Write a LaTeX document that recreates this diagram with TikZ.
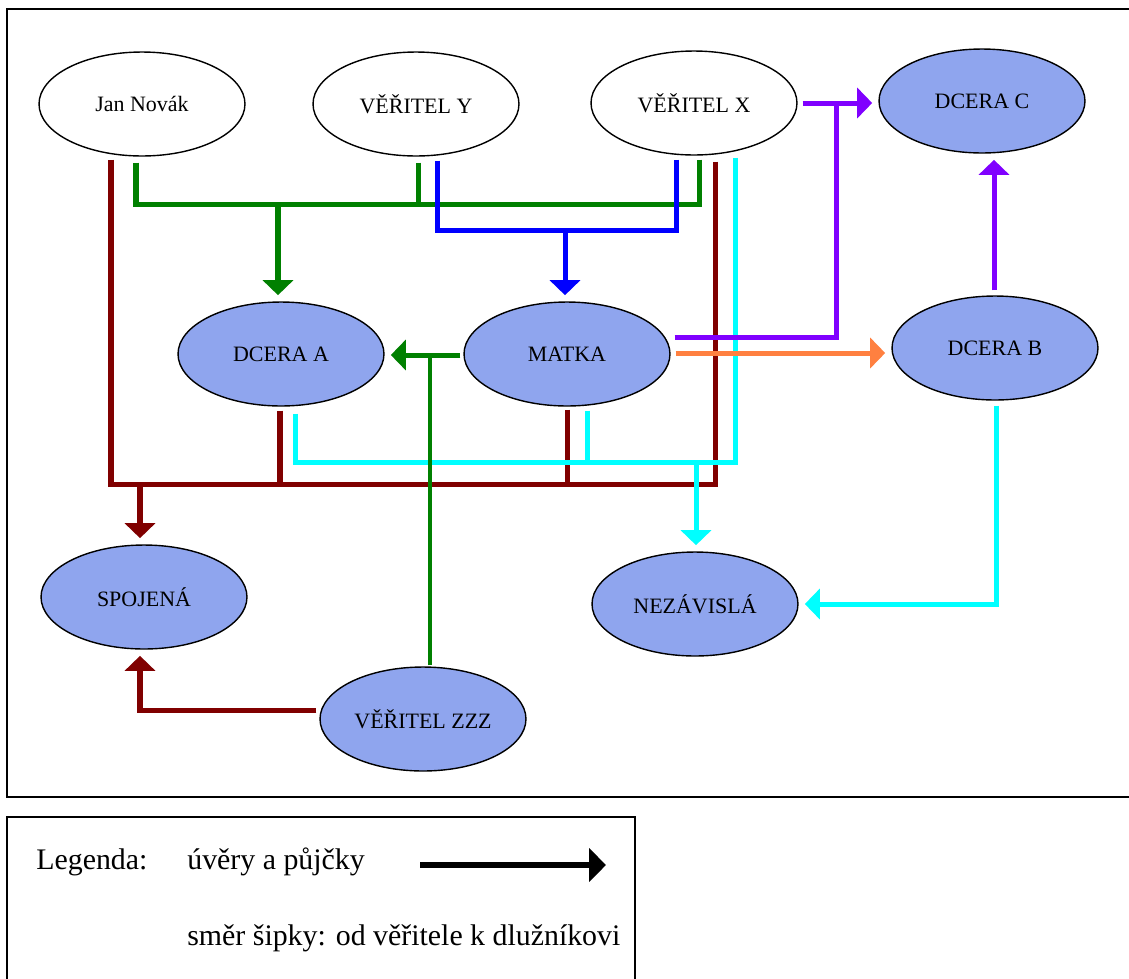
\documentclass[tikz,border=0pt]{standalone}
\usepackage{fontspec}
\setmainfont{Liberation Serif}
\usetikzlibrary{arrows.meta,calc,shapes.geometric}
\definecolor{nodefill}{RGB}{143,165,238}
\definecolor{dred}{RGB}{128,0,0}
\definecolor{dgreen}{RGB}{0,128,0}
\definecolor{pblue}{RGB}{0,0,255}
\definecolor{pcyan}{RGB}{0,255,255}
\definecolor{ppurple}{RGB}{128,0,255}
\definecolor{porange}{RGB}{255,128,64}
\begin{document}
\begin{tikzpicture}[x=0.02cm,y=-0.02cm,
  ell/.style={ellipse,draw=black,line width=0.8pt,minimum width=4.12cm,minimum height=2.08cm,inner sep=0pt,font=\fontsize{12.5}{15}\selectfont},
  wnode/.style={ell,fill=white},
  bnode/.style={ell,fill=nodefill},
  conn/.style={line width=2.85pt,line join=miter},
  arr/.style={-{Triangle[length=8.5pt,width=17pt]},shorten >=3.5pt},
  rline/.style={conn,draw=dred},
  gline/.style={conn,draw=dgreen},
  gthin/.style={line width=1.9pt,draw=dgreen},
  bline/.style={conn,draw=pblue},
  cline/.style={conn,draw=pcyan},
  pline/.style={conn,draw=ppurple},
  oline/.style={conn,draw=porange},
  frame/.style={draw=black,line width=1.2pt},
  legtext/.style={anchor=west,inner sep=0pt,font=\fontsize{17}{20}\selectfont}
]
\useasboundingbox (0,0) rectangle (1129,978);
\fill[white] (0,0) rectangle (1129,978);

% frames
\draw[frame] (7,9) rectangle (1140,797);
\draw[frame] (7,817) rectangle (635,990);

% nodes
\node[wnode] (jan) at (142,104) {Jan Novák};
\node[wnode] (vy) at (416,104) {VĚŘITEL Y};
\node[wnode] (vx) at (694,103) {VĚŘITEL X};
\node[bnode] (dC) at (982,101) {DCERA C};
\node[bnode] (dA) at (281,354) {DCERA A};
\node[bnode] (matka) at (567,354) {MATKA};
\node[bnode] (dB) at (995,348) {DCERA B};
\node[bnode] (spoj) at (144,597) {SPOJENÁ};
\node[bnode] (nez) at (695,604) {NEZÁVISLÁ};
\node[bnode] (zzz) at (423,719) {VĚŘITEL ZZZ};

% junction coordinates
\coordinate (gb) at (278,204);
\coordinate (bb) at (565,230);
\coordinate (rb) at (140,484);
\coordinate (cb) at (696,462);
\coordinate (pj) at (836,103);

% green bus to DCERA A
\draw[gline] ($(jan.south)+(-6,6)$) |- (gb);
\draw[gline] ($(vy.south)+(2,6)$) |- (gb);
\draw[gline] ($(vx.south)+(5,4)$) |- (gb);
\draw[gline,arr] (gb) -- (gb |- dA.north);

% blue bus to MATKA
\draw[bline] ($(vy.south)+(21,4)$) |- (bb);
\draw[bline] ($(vx.south)+(-18,4)$) |- (bb);
\draw[bline,arr] (bb) -- (bb |- matka.north);

% dark red bus to SPOJENA
\draw[rline] ($(jan.south)+(-31,3)$) |- (rb);
\draw[rline] ($(dA.south)+(-1,4)$) |- (rb);
\draw[rline] ($(matka.south)+(0,3)$) |- (rb);
\draw[rline] ($(vx.south)+(21,6)$) |- (rb);
\draw[rline,arr] (rb) -- (rb |- spoj.north);
\draw[rline,arr] ($(zzz.west)+(-3,-9)$) -| (rb |- spoj.south);

% cyan bus to NEZAVISLA
\draw[cline] ($(dA.south)+(14,7)$) |- (cb);
\draw[cline] ($(matka.south)+(20,4)$) |- (cb);
\draw[cline] ($(vx.south)+(41,2)$) |- (cb);
\draw[cline,arr] (cb) -- (cb |- nez.north);
\draw[cline,arr] ($(dB.south)+(1,5)$) |- (nez.east);

% purple
\draw[pline] ($(matka.east)+(4,-17)$) -| (pj);
\draw[pline,arr] ($(vx.east)+(5,0)$) -- (vx.east -| dC.west);
\draw[pline,arr] ($(dB.north)+(-1,-5)$) -- ($(dB.north |- dC.south)+(-1,0)$);

% orange
\draw[oline,arr] ($(matka.east)+(5,-1)$) -- ($(matka.east -| dB.west)+(0,-1)$);

% green from VERITEL ZZZ and MATKA to DCERA A
\draw[gthin] ($(zzz.north)+(7,-1)$) |- ($(matka.west)+(-40,1)$);
\draw[gline,arr] ($(matka.west)+(-3,1)$) -- ($(dA.east)+(0,1)$);

% legend
\node[legtext] (leg) at (36,862) {Legenda:};
\node[legtext] (l1) at (187,862) {úvěry a půjčky};
\node[legtext] (l2) at (187,938) {směr šipky: od věřitele k dlužníkovi};
\coordinate (la1) at (420,865);
\coordinate (la2) at (606,865);
\draw[line width=3.4pt,-{Triangle[length=9.6pt,width=18.7pt]}] (la1) -- (la2);
\end{tikzpicture}
\end{document}
